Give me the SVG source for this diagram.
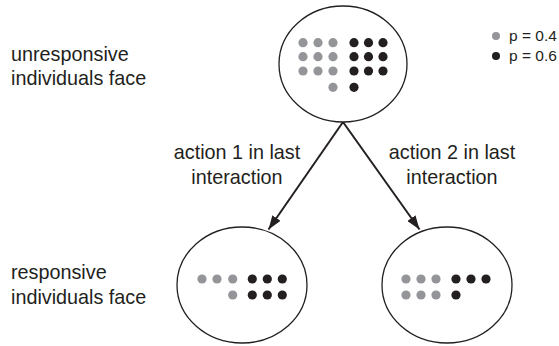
<svg xmlns="http://www.w3.org/2000/svg" width="559" height="346" viewBox="0 0 559 346">
<style>
.lbl{font-family:"Liberation Sans",Arial,sans-serif;font-size:19.8px;fill:#231f20}
.leg{font-family:"Liberation Sans",Arial,sans-serif;font-size:15.5px;fill:#231f20}
.ell{fill:#fff;stroke:#231f20;stroke-width:1.3}
.g{fill:#939598}
.b{fill:#231f20}
.conn{stroke:#231f20;stroke-width:2;fill:none}
</style>
<defs>
<marker id="ah" viewBox="0 0 14 10" refX="14" refY="5" markerWidth="14" markerHeight="10" markerUnits="userSpaceOnUse" orient="auto">
<path d="M0,0 L14,5 L0,10 Z" fill="#231f20"/>
</marker>
</defs>
<rect width="559" height="346" fill="#fff"/>
<g id="labels">
<text class="lbl" x="11" y="60.7">unresponsive</text>
<text class="lbl" x="11" y="85">individuals face</text>
<text class="lbl" x="11" y="279">responsive</text>
<text class="lbl" x="11" y="304">individuals face</text>
</g>
<g id="legend">
<circle class="g" cx="496" cy="36" r="4"/>
<circle class="b" cx="496" cy="56" r="4"/>
<text class="leg" x="509" y="40.7">p = 0.4</text>
<text class="leg" x="509" y="60.5">p = 0.6</text>
</g>
<g id="connectors">
<line class="conn" x1="343" y1="122" x2="268.5" y2="229.5" marker-end="url(#ah)"/>
<line class="conn" x1="343" y1="122" x2="419.5" y2="229.5" marker-end="url(#ah)"/>
<text class="lbl" x="237" y="159.3" text-anchor="middle">action 1 in last</text>
<text class="lbl" x="237" y="184" text-anchor="middle">interaction</text>
<text class="lbl" x="452" y="159.3" text-anchor="middle">action 2 in last</text>
<text class="lbl" x="452" y="184" text-anchor="middle">interaction</text>
</g>
<g id="node-unresponsive">
<ellipse class="ell" cx="343" cy="64" rx="64" ry="58"/>
<g class="g">
<circle cx="303" cy="42.7" r="4.6"/><circle cx="318" cy="42.7" r="4.6"/><circle cx="333" cy="42.7" r="4.6"/>
<circle cx="303" cy="56.7" r="4.6"/><circle cx="318" cy="56.7" r="4.6"/><circle cx="333" cy="56.7" r="4.6"/>
<circle cx="303" cy="71" r="4.6"/><circle cx="318" cy="71" r="4.6"/><circle cx="333" cy="71" r="4.6"/>
<circle cx="333" cy="87.3" r="4.6"/>
</g>
<g class="b">
<circle cx="354" cy="42.7" r="4.6"/><circle cx="368.5" cy="42.7" r="4.6"/><circle cx="383" cy="42.7" r="4.6"/>
<circle cx="354" cy="56.7" r="4.6"/><circle cx="368.5" cy="56.7" r="4.6"/><circle cx="383" cy="56.7" r="4.6"/>
<circle cx="354" cy="71" r="4.6"/><circle cx="368.5" cy="71" r="4.6"/><circle cx="383" cy="71" r="4.6"/>
<circle cx="354" cy="87.3" r="4.6"/>
</g>
</g>
<g id="node-action1">
<ellipse class="ell" cx="242" cy="285" rx="65" ry="58"/>
<g class="g">
<circle cx="202" cy="279" r="4.6"/><circle cx="217" cy="279" r="4.6"/><circle cx="232.7" cy="279" r="4.6"/>
<circle cx="232.7" cy="295" r="4.6"/>
</g>
<g class="b">
<circle cx="252.3" cy="279" r="4.6"/><circle cx="267.3" cy="279" r="4.6"/><circle cx="282.3" cy="279" r="4.6"/>
<circle cx="252.3" cy="295" r="4.6"/><circle cx="267.3" cy="295" r="4.6"/><circle cx="282.3" cy="295" r="4.6"/>
</g>
</g>
<g id="node-action2">
<ellipse class="ell" cx="447" cy="285" rx="65" ry="58"/>
<g class="g">
<circle cx="406" cy="279" r="4.6"/><circle cx="421" cy="279" r="4.6"/><circle cx="436" cy="279" r="4.6"/>
<circle cx="406" cy="295" r="4.6"/><circle cx="421" cy="295" r="4.6"/><circle cx="436" cy="295" r="4.6"/>
</g>
<g class="b">
<circle cx="456" cy="279" r="4.6"/><circle cx="471" cy="279" r="4.6"/><circle cx="486" cy="279" r="4.6"/>
<circle cx="456" cy="295" r="4.6"/>
</g>
</g>
</svg>
